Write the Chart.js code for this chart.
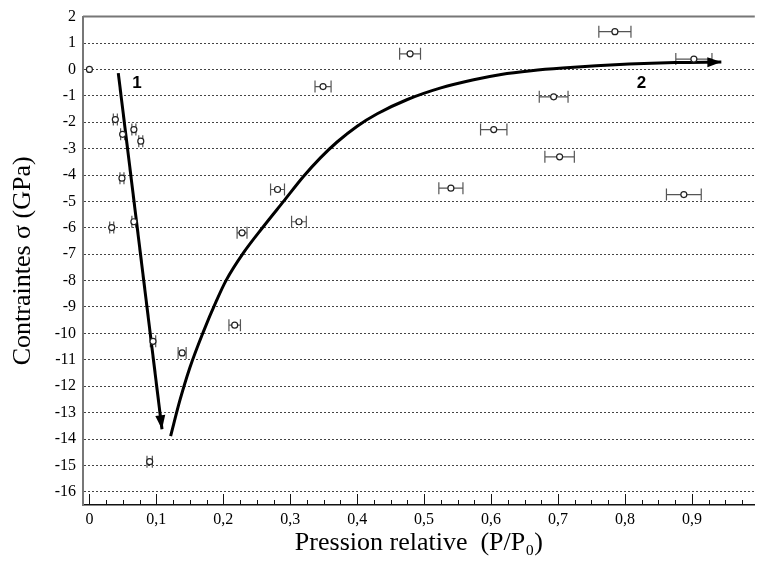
<!DOCTYPE html>
<html>
<head>
<meta charset="utf-8">
<script src="https://cdn.jsdelivr.net/npm/chart.js@4.4.0/dist/chart.umd.min.js"></script>
<style>
  html, body { margin: 0; padding: 0; background: #fff; }
</style>
</head>
<body>
<canvas id="stressChart" width="760" height="564"></canvas>
<script>
// Measured points: relative pressure, stress (GPa), and half-width of the x error bar
const pressure = [0, 0.0387, 0.0496, 0.0664, 0.0767, 0.0486, 0.0333, 0.0664, 0.095, 0.1385, 0.090,
    0.217, 0.228, 0.281, 0.313, 0.349, 0.479, 0.540, 0.604, 0.6935, 0.7024, 0.785, 0.903, 0.888];
const stress = [0, -1.90, -2.46, -2.28, -2.72, -4.12, -5.99, -5.77, -10.30, -10.74, -14.86,
    -9.69, -6.19, -4.55, -5.77, -0.65, 0.59, -4.50, -2.28, -1.04, -3.31, 1.43, 0.39, -4.74];
const pressureErr = [0, 0.003, 0.003, 0.003, 0.003, 0.003, 0.003, 0.003, 0.004, 0.006, 0.004,
    0.0086, 0.0074, 0.0104, 0.011, 0.012, 0.0156, 0.018, 0.0197, 0.0215, 0.022, 0.024, 0.027, 0.026];

// Trend 1: straight drop, trend 2: recovery curve
const path1X = [0.0431, 0.1084];
const path1Y = [-0.14, -13.63];
const path2X = [0.1213, 0.135, 0.150, 0.170, 0.190, 0.204, 0.230, 0.260, 0.290, 0.320, 0.345, 0.370,
    0.400, 0.430, 0.475, 0.525, 0.574, 0.615, 0.660, 0.707, 0.806, 0.875, 0.944];
const path2Y = [-13.89, -12.55, -11.30, -9.95, -8.75, -8.0, -6.95, -5.95, -5.0, -4.05, -3.35, -2.75,
    -2.15, -1.68, -1.14, -0.70, -0.39, -0.19, -0.05, 0.05, 0.20, 0.26, 0.28];

const pathLabels = ['1', '2'];
const pathLabelX = [0.0712, 0.8247];
const pathLabelY = [-0.52, -0.52];

const xTickValues = [0, 0.1, 0.2, 0.3, 0.4, 0.5, 0.6, 0.7, 0.8, 0.9];
const yTickValues = [2, 1, 0, -1, -2, -3, -4, -5, -6, -7, -8, -9, -10, -11, -12, -13, -14, -15, -16];

const serif = "'Liberation Serif', 'DejaVu Serif', serif";

// Horizontal error bars with caps
const errorBars = {
    id: 'errorBars',
    beforeDatasetsDraw(chart) {
        const { ctx, scales: { x, y } } = chart;
        ctx.save();
        ctx.strokeStyle = '#555';
        ctx.lineWidth = 1.2;
        pressure.forEach((p, i) => {
            const err = pressureErr[i];
            if (!err) return;
            const x0 = x.getPixelForValue(p - err);
            const x1 = x.getPixelForValue(p + err);
            const py = y.getPixelForValue(stress[i]);
            ctx.beginPath();
            ctx.moveTo(x0, py); ctx.lineTo(x1, py);
            ctx.moveTo(x0, py - 6); ctx.lineTo(x0, py + 6);
            ctx.moveTo(x1, py - 6); ctx.lineTo(x1, py + 6);
            ctx.stroke();
        });
        ctx.restore();
    }
};

// Arrow heads at the end of both trend lines, plus their numbers
const arrows = {
    id: 'arrows',
    afterDatasetsDraw(chart) {
        const { ctx, scales: { x, y } } = chart;
        ctx.save();
        ctx.fillStyle = '#000';
        [1, 2].forEach(idx => {
            const pts = chart.getDatasetMeta(idx).data;
            const tip = pts[pts.length - 1];
            const prev = pts[pts.length - 2];
            const ang = Math.atan2(tip.y - prev.y, tip.x - prev.x);
            const len = 14, half = 5;
            ctx.beginPath();
            ctx.moveTo(tip.x, tip.y);
            ctx.lineTo(tip.x - len * Math.cos(ang) + half * Math.sin(ang), tip.y - len * Math.sin(ang) - half * Math.cos(ang));
            ctx.lineTo(tip.x - len * Math.cos(ang) - half * Math.sin(ang), tip.y - len * Math.sin(ang) + half * Math.cos(ang));
            ctx.closePath();
            ctx.fill();
        });
        ctx.font = "bold 17px 'Liberation Sans', Arial, sans-serif";
        ctx.textAlign = 'center';
        ctx.textBaseline = 'middle';
        pathLabels.forEach((t, i) => {
            ctx.fillText(t, x.getPixelForValue(pathLabelX[i]), y.getPixelForValue(pathLabelY[i]));
        });
        ctx.restore();
    }
};

// Top frame line and inward tick marks on the x axis
const frame = {
    id: 'frame',
    afterDraw(chart) {
        const { ctx, chartArea, scales: { x } } = chart;
        ctx.save();
        ctx.strokeStyle = '#777';
        ctx.lineWidth = 2;
        ctx.beginPath();
        ctx.moveTo(chartArea.left, chartArea.top);
        ctx.lineTo(chartArea.right, chartArea.top);
        ctx.stroke();
        ctx.strokeStyle = '#111';
        ctx.lineWidth = 1;
        for (let k = 0; k <= 40; k++) {
            const v = k * 0.025;
            if (v > x.max) break;
            const px = Math.round(x.getPixelForValue(v)) + 0.5;
            const h = k % 4 === 0 ? 11 : 5;
            ctx.beginPath();
            ctx.moveTo(px, chartArea.bottom);
            ctx.lineTo(px, chartArea.bottom - h);
            ctx.stroke();
        }
        ctx.restore();
    }
};

new Chart(document.getElementById('stressChart'), {
    type: 'scatter',
    data: {
        datasets: [{
            data: pressure.map((p, i) => ({ x: p, y: stress[i] })),
            pointRadius: 3,
            pointBorderWidth: 1.2,
            pointBorderColor: '#222',
            pointBackgroundColor: '#fff',
            showLine: false
        }, {
            data: path1X.map((p, i) => ({ x: p, y: path1Y[i] })),
            showLine: true,
            borderColor: '#000',
            borderWidth: 3,
            pointRadius: 0
        }, {
            data: path2X.map((p, i) => ({ x: p, y: path2Y[i] })),
            showLine: true,
            cubicInterpolationMode: 'monotone',
            borderColor: '#000',
            borderWidth: 3,
            pointRadius: 0
        }]
    },
    options: {
        responsive: false,
        animation: false,
        layout: { padding: { top: 15, right: 0, left: 0, bottom: 0 } },
        plugins: {
            legend: { display: false },
            tooltip: { enabled: false }
        },
        scales: {
            x: {
                type: 'linear',
                min: -0.0096,
                max: 0.994,
                afterFit: scale => { scale.height = 59; },
                afterBuildTicks: scale => { scale.ticks = xTickValues.map(v => ({ value: v })); },
                ticks: {
                    color: '#000',
                    padding: 5,
                    font: { family: serif, size: 16 },
                    callback: value => value === 0 ? '0' : value.toFixed(1).replace('.', ',')
                },
                grid: { display: false, drawTicks: false },
                border: { color: '#111', width: 1.5 },
                title: {
                    display: true,
                    text: 'Pression relative  (P/P\u2080)',
                    color: '#000',
                    font: { family: serif, size: 26 },
                    padding: { top: 0, bottom: 5 }
                }
            },
            y: {
                min: -16.5,
                max: 2,
                afterFit: scale => { scale.width = 83; },
                afterBuildTicks: scale => { scale.ticks = yTickValues.map(v => ({ value: v })); },
                ticks: {
                    color: '#000',
                    padding: 7,
                    font: { family: serif, size: 16 }
                },
                grid: {
                    drawTicks: false,
                    color: ctx => ctx.tick && ctx.tick.value === 2 ? 'rgba(0,0,0,0)' : '#444',
                    lineWidth: 1
                },
                border: { color: '#777', width: 2, dash: [2, 2] },
                title: {
                    display: true,
                    text: 'Contraintes \u03c3 (GPa)',
                    color: '#000',
                    font: { family: serif, size: 26 },
                    padding: { top: 8, bottom: 0 }
                }
            }
        }
    },
    plugins: [errorBars, arrows, frame]
});
</script>
</body>
</html>
